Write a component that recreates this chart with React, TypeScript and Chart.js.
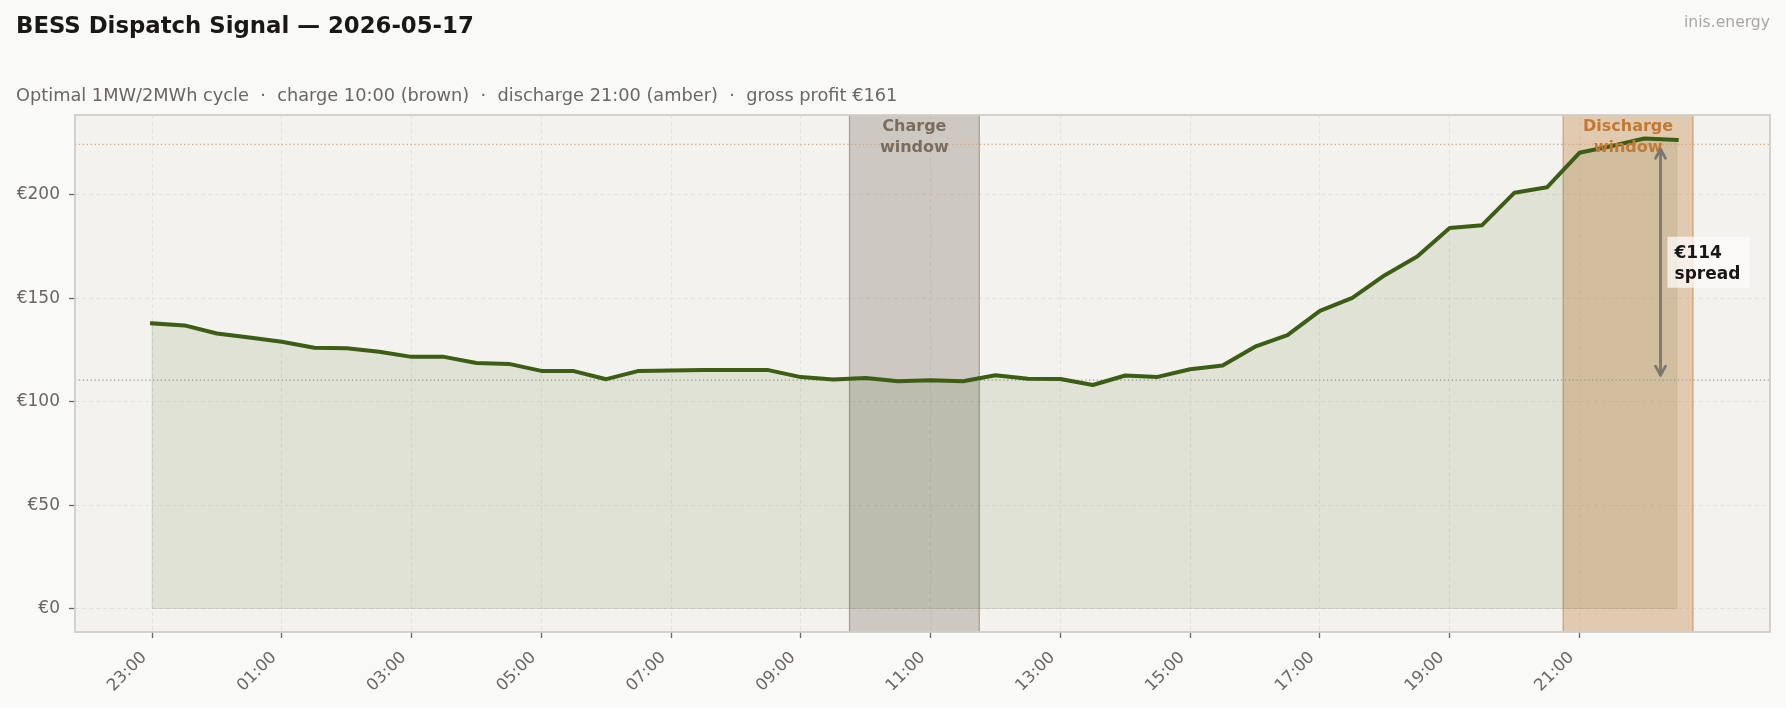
import React, { useEffect, useRef } from "react";
import { Chart, registerables } from "chart.js";

Chart.register(...registerables);

// ---------- data ----------
const times = [
  "23:00", "23:30", "00:00", "00:30", "01:00", "01:30", "02:00", "02:30",
  "03:00", "03:30", "04:00", "04:30", "05:00", "05:30", "06:00", "06:30",
  "07:00", "07:30", "08:00", "08:30", "09:00", "09:30", "10:00", "10:30",
  "11:00", "11:30", "12:00", "12:30", "13:00", "13:30", "14:00", "14:30",
  "15:00", "15:30", "16:00", "16:30", "17:00", "17:30", "18:00", "18:30",
  "19:00", "19:30", "20:00", "20:30", "21:00", "21:30", "22:00", "22:30",
];
const prices = [
  137.9, 136.9, 133.0, 131.1, 129.0, 126.1, 125.9, 124.2,
  121.7, 121.7, 118.7, 118.3, 114.9, 114.8, 110.9, 114.9,
  115.1, 115.3, 115.3, 115.3, 111.9, 110.7, 111.5, 109.9,
  110.4, 109.9, 112.8, 111.1, 111.0, 108.1, 112.7, 112.0,
  115.7, 117.5, 126.6, 132.2, 143.9, 150.2, 161.2, 170.2,
  184.0, 185.4, 201.1, 203.7, 220.4, 223.7, 227.3, 226.6,
];
const xTickLabels = ["23:00", "01:00", "03:00", "05:00", "07:00", "09:00", "11:00", "13:00", "15:00", "17:00", "19:00", "21:00"];
const yTickValues = [0, 50, 100, 150, 200];
const chargeWindow = ["09:45", "11:45"];
const dischargeWindow = ["20:45", "22:45"];
const chargeSlots = ["10:00", "10:30", "11:00", "11:30"];
const dischargeSlots = ["21:00", "21:30", "22:00", "22:30"];
const arrowTime = "22:15";
const chargeLabel = ["Charge", "window"];
const dischargeLabel = ["Discharge", "window"];
const titleText = "BESS Dispatch Signal — 2026-05-17";
const subtitleText = "Optimal 1MW/2MWh cycle  ·  charge 10:00 (brown)  ·  discharge 21:00 (amber)  ·  gross profit €161";
const brandText = "inis.energy";

// ---------- helpers ----------
const START_HOUR = 23;
function toHours(t: string): number {
  const [h, m] = t.split(":").map(Number);
  return (h + m / 60 - START_HOUR + 24) % 24;
}
function avgOf(slots: string[]): number {
  const vals = slots.map((s) => prices[times.indexOf(s)]);
  return vals.reduce((a, b) => a + b, 0) / vals.length;
}

const FONT = "'DejaVu Sans', 'Noto Sans', sans-serif";
const TICK_COLOR = "#6b6662";

export default function App() {
  const ref = useRef<HTMLCanvasElement | null>(null);

  useEffect(() => {
    document.body.style.margin = "0";
    const canvas = ref.current;
    if (!canvas) return;

    const chargeAvg = avgOf(chargeSlots);
    const dischargeAvg = avgOf(dischargeSlots);
    const spread = dischargeAvg - chargeAvg;

    const xs = times.map(toHours);
    const allX = [...xs, ...chargeWindow.map(toHours), ...dischargeWindow.map(toHours)];
    const xMinD = Math.min(...allX);
    const xMaxD = Math.max(...allX);
    const xPad = (xMaxD - xMinD) * 0.05;
    const yMinD = 0;
    const yMaxD = Math.max(...prices);
    const yPad = (yMaxD - yMinD) * 0.05;

    const deco = {
      id: "deco",
      beforeDraw(chart: any) {
        const { ctx, chartArea: a, width, height } = chart;
        ctx.save();
        ctx.fillStyle = "#f9f9f7";
        ctx.fillRect(0, 0, width, height);
        ctx.fillStyle = "#f3f2ee";
        ctx.fillRect(a.left, a.top, a.right - a.left, a.bottom - a.top);
        ctx.restore();
      },
      beforeDatasetsDraw(chart: any) {
        const { ctx, chartArea: a, scales } = chart;
        const x = scales.x;
        const y = scales.y;
        ctx.save();
        const spans = [
          { w: chargeWindow, fill: "rgba(91,74,58,0.25)", edge: "rgba(140,128,115,0.7)" },
          { w: dischargeWindow, fill: "rgba(190,108,32,0.30)", edge: "rgba(205,140,80,0.8)" },
        ];
        for (const s of spans) {
          const x1 = x.getPixelForValue(toHours(s.w[0]));
          const x2 = x.getPixelForValue(toHours(s.w[1]));
          ctx.fillStyle = s.fill;
          ctx.fillRect(x1, a.top, x2 - x1, a.bottom - a.top);
          ctx.strokeStyle = s.edge;
          ctx.lineWidth = 1.2;
          ctx.beginPath();
          ctx.moveTo(x1, a.top);
          ctx.lineTo(x1, a.bottom);
          ctx.moveTo(x2, a.top);
          ctx.lineTo(x2, a.bottom);
          ctx.stroke();
        }
        // dotted reference lines
        const lines = [
          { v: dischargeAvg, c: "#d9a677" },
          { v: chargeAvg, c: "#a39d94" },
        ];
        ctx.setLineDash([1.3, 2.6]);
        ctx.lineWidth = 1.2;
        for (const l of lines) {
          const py = y.getPixelForValue(l.v);
          ctx.strokeStyle = l.c;
          ctx.beginPath();
          ctx.moveTo(a.left, py);
          ctx.lineTo(a.right, py);
          ctx.stroke();
        }
        ctx.setLineDash([]);
        // fill outline edges
        const fx1 = x.getPixelForValue(xs[0]);
        const fx2 = x.getPixelForValue(xs[xs.length - 1]);
        const y0 = y.getPixelForValue(0);
        ctx.strokeStyle = "rgba(61,96,22,0.12)";
        ctx.lineWidth = 1;
        ctx.beginPath();
        ctx.moveTo(fx1, y.getPixelForValue(prices[0]));
        ctx.lineTo(fx1, y0);
        ctx.lineTo(fx2, y0);
        ctx.lineTo(fx2, y.getPixelForValue(prices[prices.length - 1]));
        ctx.stroke();
        ctx.restore();
      },
      afterDatasetsDraw(chart: any) {
        const { ctx, chartArea: a, scales } = chart;
        const x = scales.x;
        const y = scales.y;
        ctx.save();
        // plot frame
        ctx.strokeStyle = "#d1cdc7";
        ctx.lineWidth = 1.8;
        ctx.strokeRect(a.left, a.top, a.right - a.left, a.bottom - a.top);

        // window labels
        ctx.font = `bold 16px ${FONT}`;
        ctx.textAlign = "center";
        ctx.textBaseline = "alphabetic";
        const wl = [
          { w: chargeWindow, t: chargeLabel, c: "#7a6d60" },
          { w: dischargeWindow, t: dischargeLabel, c: "#c07a35" },
        ];
        for (const l of wl) {
          const cx = (x.getPixelForValue(toHours(l.w[0])) + x.getPixelForValue(toHours(l.w[1]))) / 2;
          ctx.fillStyle = l.c;
          ctx.fillText(l.t[0], cx, a.top + 16);
          ctx.fillText(l.t[1], cx, a.top + 37);
        }

        // spread arrow
        const ax = x.getPixelForValue(toHours(arrowTime));
        const yTop = y.getPixelForValue(dischargeAvg) + 5;
        const yBot = y.getPixelForValue(chargeAvg) - 5;
        ctx.strokeStyle = "#7b7671";
        ctx.lineWidth = 2.8;
        ctx.lineCap = "round";
        ctx.lineJoin = "round";
        ctx.beginPath();
        ctx.moveTo(ax, yTop);
        ctx.lineTo(ax, yBot);
        ctx.stroke();
        const hl = 9, hw = 5;
        ctx.beginPath();
        ctx.moveTo(ax - hw, yTop + hl);
        ctx.lineTo(ax, yTop);
        ctx.lineTo(ax + hw, yTop + hl);
        ctx.moveTo(ax - hw, yBot - hl);
        ctx.lineTo(ax, yBot);
        ctx.lineTo(ax + hw, yBot - hl);
        ctx.stroke();

        // spread label
        const midY = y.getPixelForValue((dischargeAvg + chargeAvg) / 2);
        const l1 = `€${Math.round(spread)}`;
        const l2 = "spread";
        ctx.font = `bold 17px ${FONT}`;
        const tw = Math.max(ctx.measureText(l1).width, ctx.measureText(l2).width);
        const bx = ax + 7;
        ctx.fillStyle = "rgba(252,251,249,0.75)";
        ctx.fillRect(bx, midY - 25.5, tw + 16, 51);
        ctx.fillStyle = "#1a1816";
        ctx.textAlign = "left";
        ctx.fillText(l1, bx + 7, midY - 4.3);
        ctx.fillText(l2, bx + 7, midY + 16.4);

        // titles
        ctx.textAlign = "left";
        ctx.fillStyle = "#1a1816";
        ctx.font = `bold 22.8px ${FONT}`;
        ctx.fillText(titleText, 16, 33);
        ctx.fillStyle = TICK_COLOR;
        ctx.font = `17.75px ${FONT}`;
        ctx.fillText(subtitleText, 16, 101);
        ctx.fillStyle = "#aaa7a3";
        ctx.font = `15.6px ${FONT}`;
        ctx.textAlign = "right";
        ctx.fillText(brandText, 1770, 27);
        ctx.restore();
      },
    };

    const chart = new Chart(canvas, {
      type: "line",
      data: {
        datasets: [
          {
            data: times.map((t, i) => ({ x: toHours(t), y: prices[i] })),
            borderColor: "#3b5e14",
            borderWidth: 4,
            borderJoinStyle: "round",
            borderCapStyle: "square",
            pointRadius: 0,
            tension: 0,
            fill: "origin",
            backgroundColor: "rgba(61,96,22,0.11)",
          },
        ],
      },
      options: {
        responsive: false,
        animation: false,
        devicePixelRatio: 1,
        events: [],
        layout: { padding: { left: 10, right: 16, top: 115, bottom: 0 } },
        plugins: { legend: { display: false }, tooltip: { enabled: false }, title: { display: false } },
        scales: {
          x: {
            type: "linear",
            min: xMinD - xPad,
            max: xMaxD + xPad,
            afterBuildTicks: (s: any) => {
              s.ticks = xTickLabels.map((t) => ({ value: toHours(t) }));
            },
            afterFit: (s: any) => {
              s.height = 76;
            },
            ticks: {
              autoSkip: false,
              maxRotation: 45,
              minRotation: 45,
              padding: 10,
              labelOffset: -8,
              color: TICK_COLOR,
              font: { family: FONT, size: 16.5 },
              callback: (v: any) => {
                const i = xTickLabels.findIndex((t) => Math.abs(toHours(t) - Number(v)) < 1e-6);
                return i >= 0 ? xTickLabels[i] : "";
              },
            },
            grid: {
              color: "#e4e2dd",
              lineWidth: 1,
              tickColor: TICK_COLOR,
              tickLength: 6,
              tickWidth: 1.3,
            },
            border: { display: false, dash: [4, 3] },
          },
          y: {
            type: "linear",
            min: yMinD - yPad,
            max: yMaxD + yPad,
            afterBuildTicks: (s: any) => {
              s.ticks = yTickValues.map((v) => ({ value: v }));
            },
            afterFit: (s: any) => {
              s.width = 65;
            },
            ticks: {
              padding: 9,
              color: TICK_COLOR,
              font: { family: FONT, size: 17 },
              callback: (v: any) => `€${v}`,
            },
            grid: {
              color: "#e4e2dd",
              lineWidth: 1,
              tickColor: TICK_COLOR,
              tickLength: 6,
              tickWidth: 1.3,
            },
            border: { display: false, dash: [4, 3] },
          },
        },
      },
      plugins: [deco],
    } as any);

    return () => chart.destroy();
  }, []);

  return (
    <div style={{ position: "fixed", left: 0, top: 0, width: 1786, height: 708 }}>
      <canvas ref={ref} width={1786} height={708} style={{ display: "block", width: 1786, height: 708 }} />
    </div>
  );
}
